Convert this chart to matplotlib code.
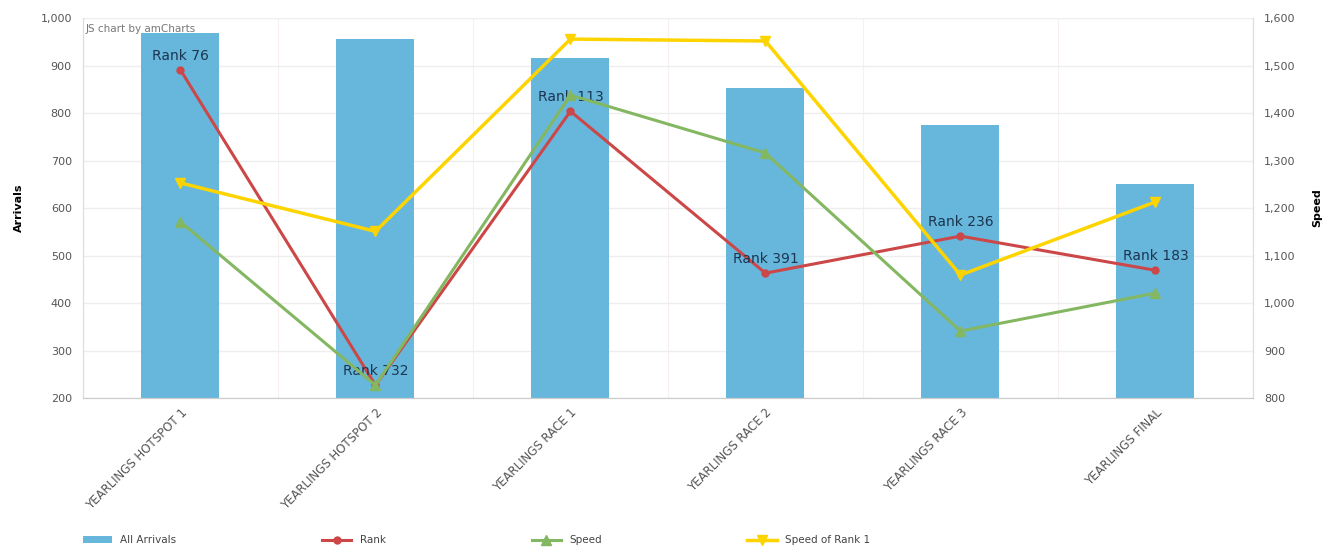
import numpy as np
from matplotlib import pyplot as plt

categories = ["YEARLINGS HOTSPOT 1", "YEARLINGS HOTSPOT 2", "YEARLINGS RACE 1",
              "YEARLINGS RACE 2", "YEARLINGS RACE 3", "YEARLINGS FINAL"]
arrivals = [968, 956, 916, 853, 775, 651]  # столбцы, левая ось
rank_pos = [891, 227, 804, 463, 541, 469]  # положение линии Rank на левой оси
rank_labels = ["Rank 76", "Rank 732", "Rank 113", "Rank 391", "Rank 236", "Rank 183"]
speed = [1171, 827, 1438, 1316, 941, 1021]  # правая ось
speed_rank1 = [1253, 1151, 1556, 1552, 1059, 1213]

c_bar = '#67b7dc'
c_rank = '#cc4748'
c_speed = '#84b761'
c_speed1 = '#fdd400'
c_tick = '#555555'

fig = plt.figure(figsize=(13.34, 5.52), dpi=100)
ax = fig.add_axes([0.0622, 0.279, 0.877, 0.688])
ax2 = ax.twinx()

x = np.arange(len(categories))
bars = ax.bar(x, arrivals, width=0.4, color=c_bar, zorder=2, label='All Arrivals')
l_rank, = ax.plot(x, rank_pos, color=c_rank, lw=2.2, marker='o', ms=5, zorder=4, label='Rank')
for xi, yi, t in zip(x, rank_pos, rank_labels):
    ax.text(xi, yi + 15, t, ha='center', va='bottom', fontsize=10, color='#1c3550', zorder=6)

l_speed, = ax2.plot(x, speed, color=c_speed, lw=2.2, marker='^', ms=7, zorder=3, label='Speed')
l_speed1, = ax2.plot(x, speed_rank1, color=c_speed1, lw=2.5, marker='v', ms=7, zorder=3,
                     label='Speed of Rank 1')

ax.set_xlim(-0.5, len(categories) - 0.5)
ax.set_ylim(200, 1000)
ax2.set_ylim(800, 1600)
ax.set_yticks(np.arange(200, 1001, 100))
ax2.set_yticks(np.arange(800, 1601, 100))
ax.yaxis.set_major_formatter(plt.FuncFormatter(lambda v, p: f"{int(v):,}"))
ax2.yaxis.set_major_formatter(plt.FuncFormatter(lambda v, p: f"{int(v):,}"))

ax.set_xticks(x)
ax.set_xticklabels(categories, rotation=45, ha='right', rotation_mode='anchor',
                   fontsize=8.5, color=c_tick)
ax.tick_params(axis='y', labelsize=8, colors=c_tick, length=0, pad=8)
ax2.tick_params(axis='y', labelsize=8, colors=c_tick, length=0, pad=8)
ax.tick_params(axis='x', length=0, pad=6)

ax.grid(axis='y', color='#eeeeee', lw=1, zorder=0)
ax.set_axisbelow(True)
for xb in np.arange(-0.5, len(categories), 1):
    ax.axvline(xb, color='#f7f0ec', lw=0.8, zorder=0)

for a in (ax, ax2):
    a.spines['top'].set_visible(False)
    a.spines['left'].set_color('#dddddd')
    a.spines['right'].set_color('#dddddd')
    a.spines['bottom'].set_color('#cccccc')

ax.set_ylabel("Arrivals", fontsize=8, fontweight='bold', labelpad=12)
ax2.set_ylabel("Speed", fontsize=8, fontweight='bold', labelpad=12)

ax.text(0.002, 0.985, "JS chart by amCharts", transform=ax.transAxes, fontsize=7.5,
        color='#777777', ha='left', va='top', zorder=7)

fig.legend([bars, l_rank, l_speed, l_speed1],
           ['All Arrivals', 'Rank', 'Speed', 'Speed of Rank 1'],
           loc='lower left', bbox_to_anchor=(0.055, -0.005), ncol=4, frameon=False,
           fontsize=7.5, columnspacing=14.0, handlelength=2.8, labelcolor='#444444')

fig.savefig('out.png', dpi=100)
